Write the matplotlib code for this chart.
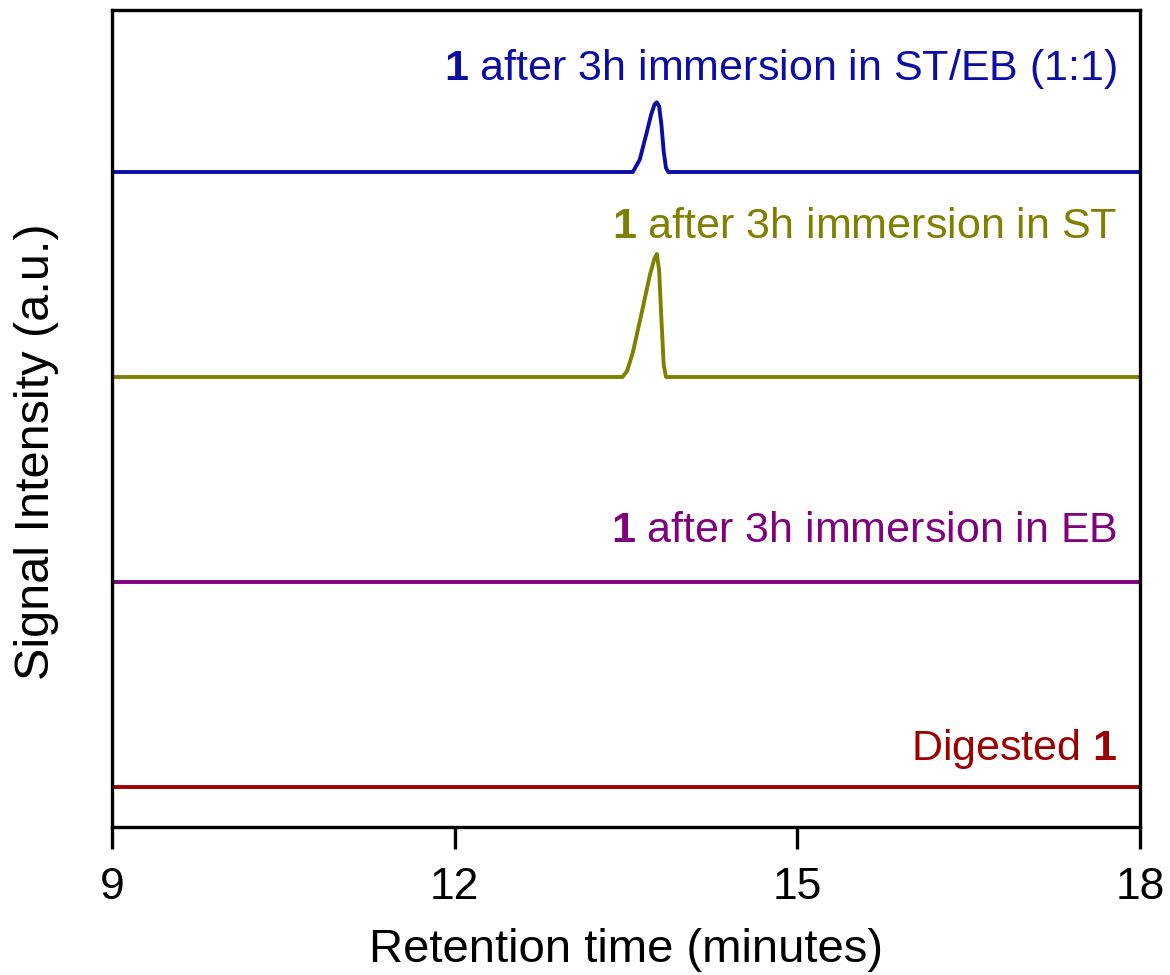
import matplotlib.pyplot as plt
import numpy as np

plt.rcParams['font.family'] = ['Liberation Sans', 'DejaVu Sans']
plt.rcParams['mathtext.fontset'] = 'custom'
plt.rcParams['mathtext.rm'] = 'Liberation Sans'
plt.rcParams['mathtext.bf'] = 'Liberation Sans:bold'

# HPLC traces, time in minutes, intensity in a.u. (baseline-subtracted)
t_mix = [9.0, 13.56, 13.62, 13.68, 13.72, 13.75, 13.77, 13.79, 13.81, 13.83, 13.85, 13.87, 18.0]
i_mix = [0.0, 0.0, 0.06, 0.19, 0.28, 0.33, 0.34, 0.32, 0.23, 0.10, 0.02, 0.0, 0.0]

t_st = [9.0, 13.47, 13.51, 13.56, 13.64, 13.71, 13.75, 13.77, 13.79, 13.81, 13.83, 13.85, 18.0]
i_st = [0.0, 0.0, 0.03, 0.12, 0.32, 0.50, 0.58, 0.60, 0.52, 0.28, 0.06, 0.0, 0.0]

t_eb = [9.0, 18.0]
i_eb = [0.0, 0.0]

t_dig = [9.0, 18.0]
i_dig = [0.0, 0.0]

offsets = [3.0, 2.0, 1.0, 0.0]
colors = ['#0c0ca6', '#808000', '#800080', '#9e0000']
labels = [r'$\mathbf{1}$ after 3h immersion in ST/EB (1:1)',
          r'$\mathbf{1}$ after 3h immersion in ST',
          r'$\mathbf{1}$ after 3h immersion in EB',
          r'Digested $\mathbf{1}$']
label_y = [3.45, 2.68, 1.195, 0.13]

fig = plt.figure(figsize=(11.7, 9.75), dpi=100)
ax = fig.add_axes([0.0957, 0.1518, 0.8787, 0.8379])

traces = [(t_mix, i_mix), (t_st, i_st), (t_eb, i_eb), (t_dig, i_dig)]
for (t, y), off, c, lab, ly in zip(traces, offsets, colors, labels, label_y):
    ax.plot(t, np.array(y) + off, color=c, lw=2.8, solid_joinstyle='round')
    ax.text(17.8, ly, lab, color=c, fontsize=31, ha='right', va='baseline')

ax.set_xlim(9, 18)
ax.set_ylim(-0.195, 3.79)
ax.set_xticks([9, 12, 15, 18])
ax.set_yticks([])
ax.tick_params(axis='x', direction='out', length=16, width=2.4, labelsize=32, pad=13)
for s in ax.spines.values():
    s.set_linewidth(2.4)

ax.set_xlabel('Retention time (minutes)', fontsize=34, labelpad=14)
ax.set_ylabel('Signal Intensity (a.u.)', fontsize=35)
ax.yaxis.set_label_coords(-0.052, 0.459)

fig.savefig('out.png', dpi=100)
